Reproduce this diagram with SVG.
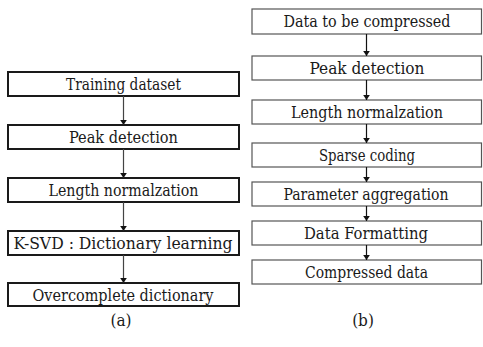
<svg xmlns="http://www.w3.org/2000/svg" width="483" height="347" viewBox="0 0 483 347">
<style>
  .bl { fill: #fff; stroke: #1a1a1a; stroke-width: 2; }
  .br { fill: #fff; stroke: #555; stroke-width: 1.2; }
  text { font-family: "DejaVu Serif Condensed", "DejaVu Serif", serif; font-stretch: condensed; font-size: 16px; fill: #1a1a1a; text-anchor: middle; }
  .cap { font-size: 17px; }
  .cl { stroke: #444; stroke-width: 1.2; fill: none; marker-end: url(#ah); }
  .cr { stroke: #111; stroke-width: 1.2; fill: none; marker-end: url(#ah); }
</style>
<defs>
  <marker id="ah" viewBox="0 0 6 8" refX="6" refY="4" markerWidth="5" markerHeight="7" orient="auto" markerUnits="userSpaceOnUse">
    <path d="M0,0 L6,4 L0,8 Z" fill="#111"/>
  </marker>
</defs>
<g id="a1"><rect class="bl" x="8" y="72" width="231" height="24"/><text x="123.5" y="90" textLength="115" lengthAdjust="spacingAndGlyphs">Training dataset</text></g>
<g id="a2"><rect class="bl" x="8" y="125" width="231" height="24"/><text x="123.5" y="143" textLength="109" lengthAdjust="spacingAndGlyphs">Peak detection</text></g>
<g id="a3"><rect class="bl" x="8" y="178" width="231" height="24"/><text x="123.5" y="196" textLength="150" lengthAdjust="spacingAndGlyphs">Length normalzation</text></g>
<g id="a4"><rect class="bl" x="8" y="231" width="231" height="24"/><text x="123" y="249" textLength="219" lengthAdjust="spacingAndGlyphs">K-SVD : Dictionary learning</text></g>
<g id="a5"><rect class="bl" x="8" y="283" width="231" height="23"/><text x="123" y="300.5" textLength="181" lengthAdjust="spacingAndGlyphs">Overcomplete dictionary</text></g>
<text class="cap" x="121" y="326">(a)</text>

<g id="b1"><rect class="br" x="252" y="9" width="229.5" height="25"/><text x="367" y="27" textLength="167" lengthAdjust="spacingAndGlyphs">Data to be compressed</text></g>
<g id="b2"><rect class="br" x="252" y="56" width="229.5" height="24"/><text x="367" y="74" textLength="115" lengthAdjust="spacingAndGlyphs">Peak detection</text></g>
<g id="b3"><rect class="br" x="252" y="100" width="229.5" height="24"/><text x="367" y="118" textLength="152" lengthAdjust="spacingAndGlyphs">Length normalzation</text></g>
<g id="b4"><rect class="br" x="252" y="143" width="229.5" height="24"/><text x="367" y="161" textLength="96" lengthAdjust="spacingAndGlyphs">Sparse coding</text></g>
<g id="b5"><rect class="br" x="252" y="182" width="229.5" height="24"/><text x="366" y="200" textLength="165" lengthAdjust="spacingAndGlyphs">Parameter aggregation</text></g>
<g id="b6"><rect class="br" x="252" y="221" width="229.5" height="24"/><text x="366" y="239" textLength="124" lengthAdjust="spacingAndGlyphs">Data Formatting</text></g>
<g id="b7"><rect class="br" x="252" y="260" width="229.5" height="24"/><text x="366.5" y="278" textLength="123" lengthAdjust="spacingAndGlyphs">Compressed data</text></g>
<text class="cap" x="363" y="326">(b)</text>

<g id="connectors">
  <path class="cl" d="M123.5,96 V125"/>
  <path class="cl" d="M123.5,149 V178"/>
  <path class="cl" d="M123.5,202 V231"/>
  <path class="cl" d="M123.5,255 V283"/>
  <path class="cr" d="M366.5,34 V56"/>
  <path class="cr" d="M366.5,80 V100"/>
  <path class="cr" d="M366.5,124 V143"/>
  <path class="cr" d="M366.5,167 V182"/>
  <path class="cr" d="M366.5,206 V221"/>
  <path class="cr" d="M366.5,245 V260"/>
</g>
</svg>
